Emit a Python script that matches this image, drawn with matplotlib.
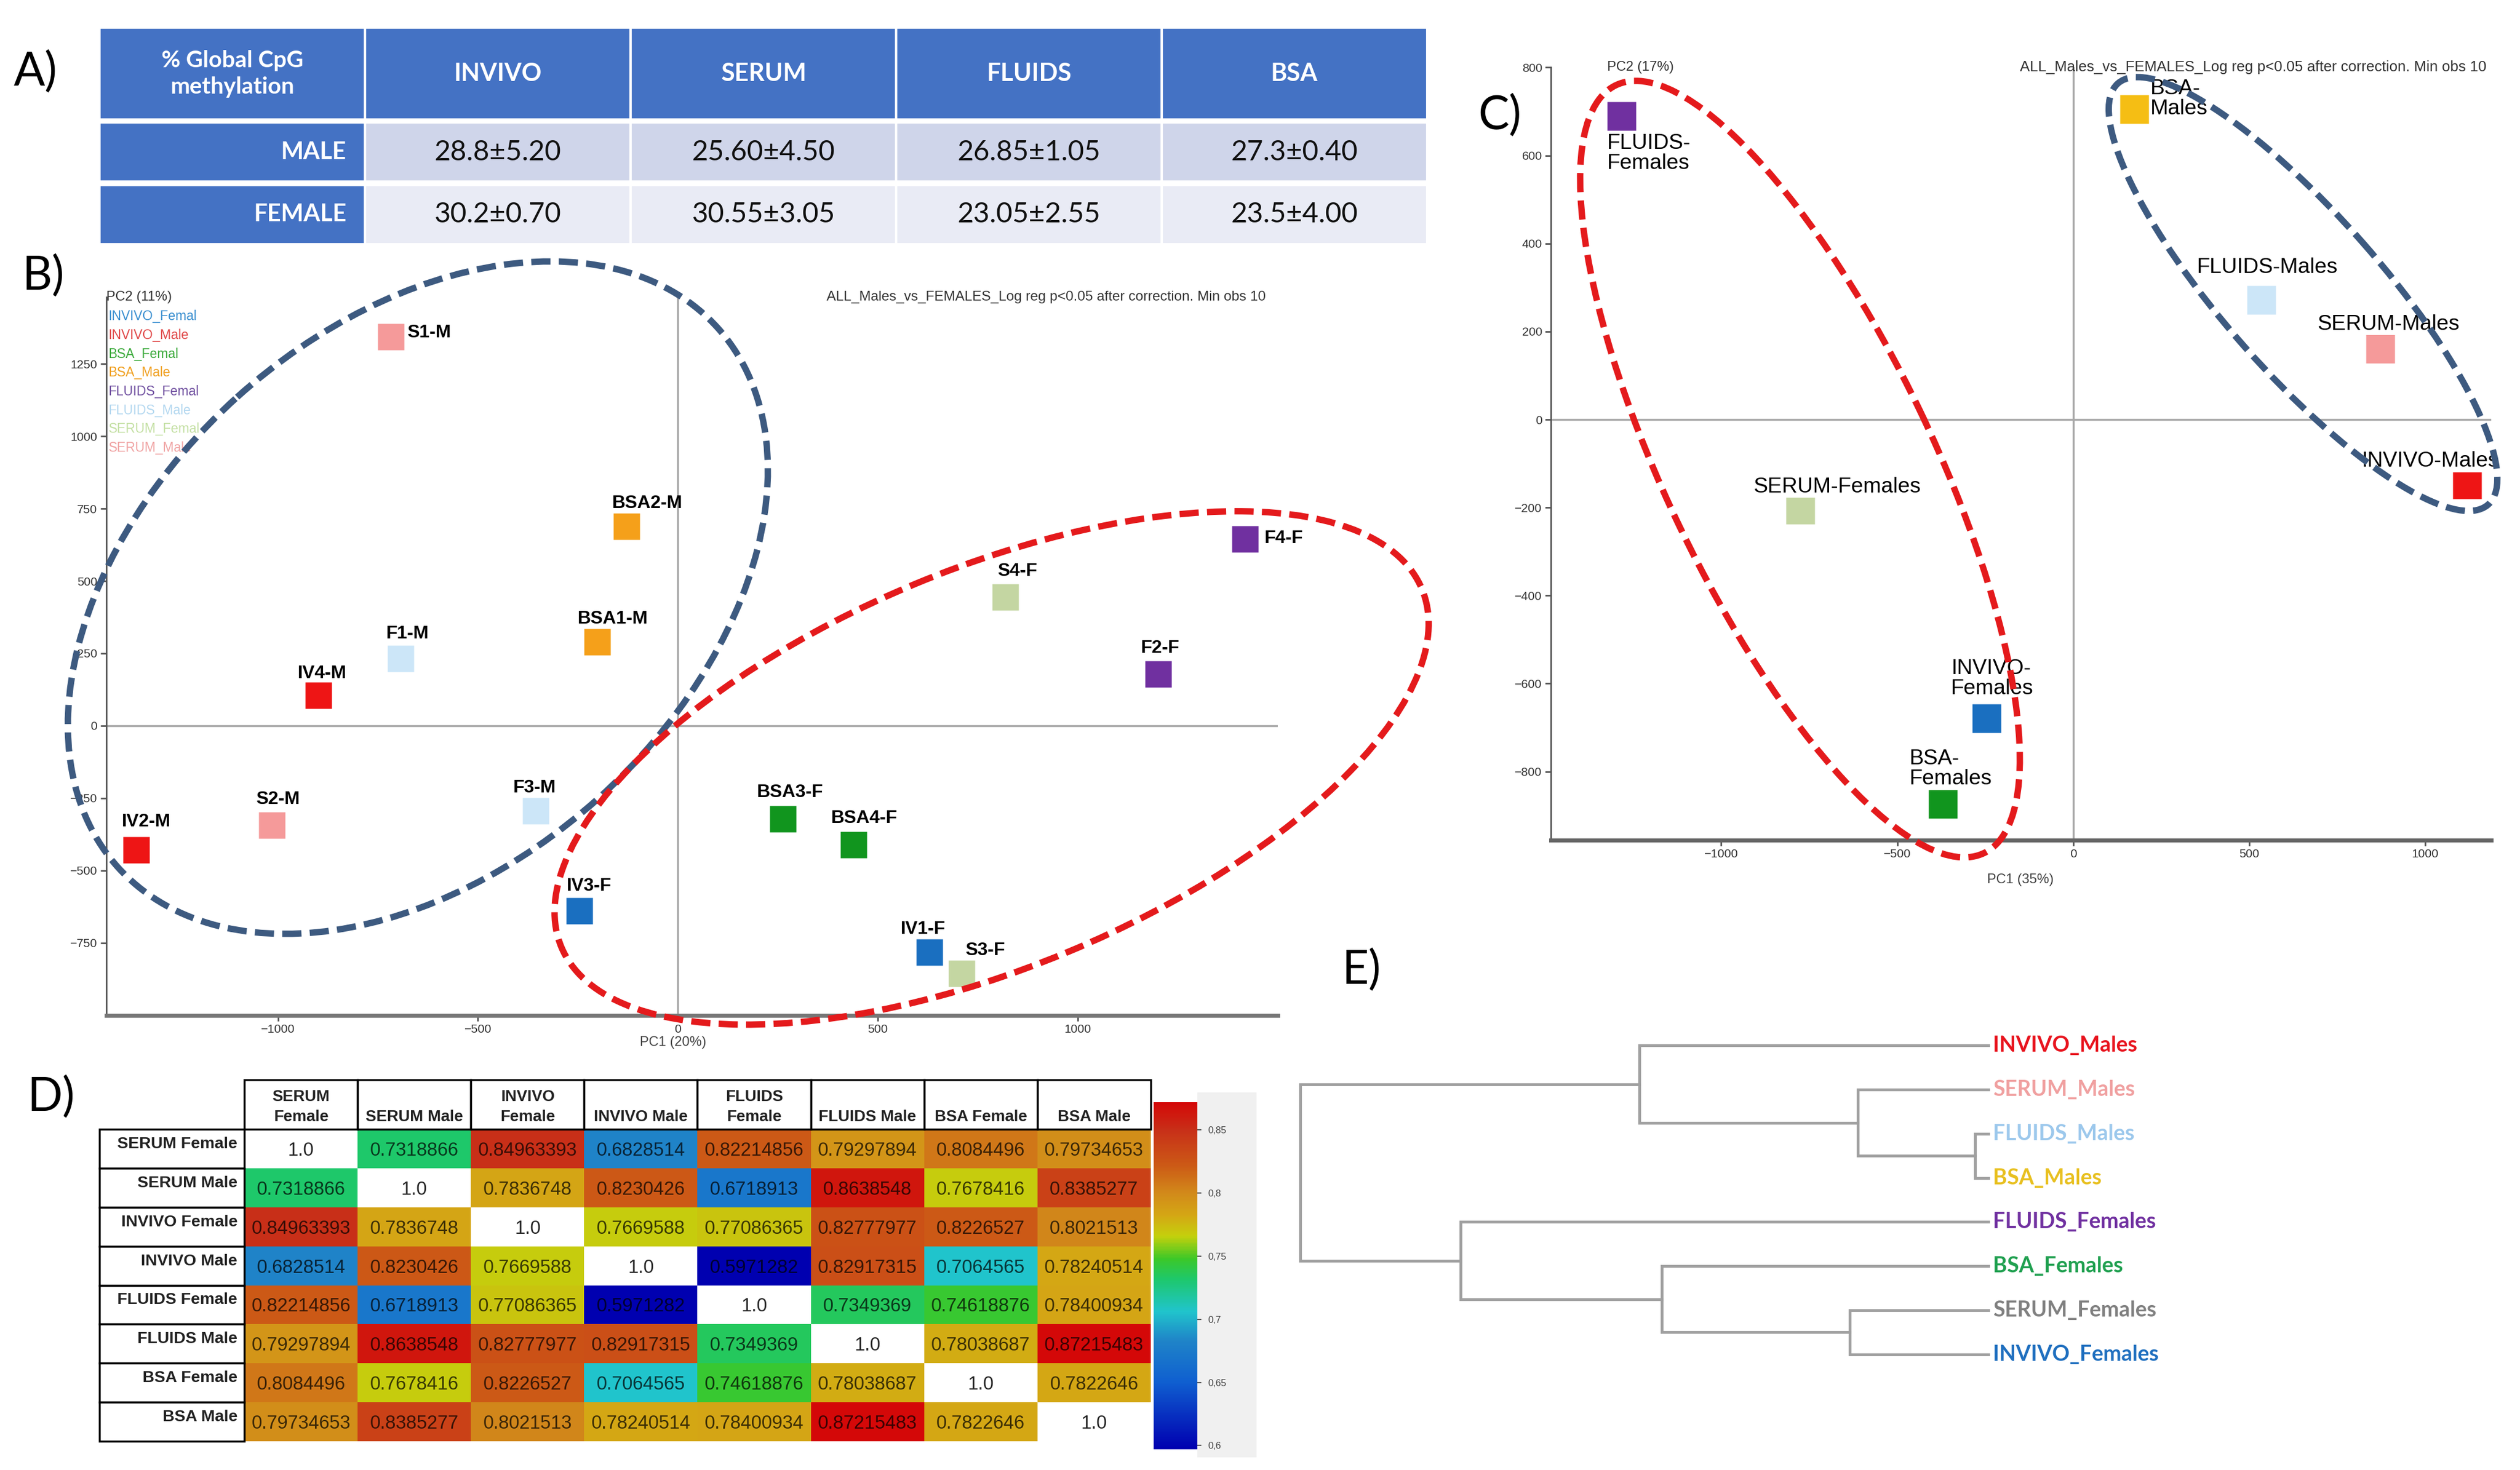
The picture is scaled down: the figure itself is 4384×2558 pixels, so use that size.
import matplotlib
matplotlib.use('Agg')
import matplotlib.pyplot as plt
import numpy as np
from matplotlib import font_manager
from matplotlib.patches import Ellipse, Rectangle
from matplotlib.colors import LinearSegmentedColormap, Normalize

# ---------------- data ----------------
# A) global CpG methylation table
groups = ['INVIVO', 'SERUM', 'FLUIDS', 'BSA']
male_meth = ['28.8±5.20', '25.60±4.50', '26.85±1.05', '27.3±0.40']
female_meth = ['30.2±0.70', '30.55±3.05', '23.05±2.55', '23.5±4.00']

# B) PCA of the individual samples
b_labels = ['S1-M', 'BSA2-M', 'BSA1-M', 'F1-M', 'IV4-M', 'F3-M', 'S2-M', 'IV2-M',
            'IV3-F', 'BSA3-F', 'BSA4-F', 'IV1-F', 'S3-F', 'S4-F', 'F2-F', 'F4-F']
b_pc1 = [-718, -129, -202, -694, -899, -355, -1016, -1355,
         -246, 262, 440, 629, 710, 819, 1202, 1419]
b_pc2 = [1344, 689, 289, 233, 106, -294, -344, -428,
         -639, -322, -411, -783, -856, 444, 178, 644]
b_group = ['SERUM_Male', 'BSA_Male', 'BSA_Male', 'FLUIDS_Male', 'INVIVO_Male', 'FLUIDS_Male',
           'SERUM_Male', 'INVIVO_Male', 'INVIVO_Femal', 'BSA_Femal', 'BSA_Femal', 'INVIVO_Femal',
           'SERUM_Femal', 'SERUM_Femal', 'FLUIDS_Femal', 'FLUIDS_Femal']
legend_groups = ['INVIVO_Femal', 'INVIVO_Male', 'BSA_Femal', 'BSA_Male',
                 'FLUIDS_Femal', 'FLUIDS_Male', 'SERUM_Femal', 'SERUM_Male']

# C) PCA of the pooled groups
c_labels = ['FLUIDS-\nFemales', 'BSA-\nMales', 'FLUIDS-Males', 'SERUM-Males', 'INVIVO-Males',
            'SERUM-Females', 'INVIVO-\nFemales', 'BSA-\nFemales']
c_pc1 = [-1283, 174, 534, 872, 1119, -776, -247, -370]
c_pc2 = [690, 705, 272, 161, -147, -205, -679, -873]
c_group = ['FLUIDS_Femal', 'BSA_Male', 'FLUIDS_Male', 'SERUM_Male', 'INVIVO_Male',
           'SERUM_Femal', 'INVIVO_Femal', 'BSA_Femal']

# D) correlation matrix
d_names = ['SERUM Female', 'SERUM Male', 'INVIVO Female', 'INVIVO Male',
           'FLUIDS Female', 'FLUIDS Male', 'BSA Female', 'BSA Male']
d_cols = ['SERUM\nFemale', 'SERUM Male', 'INVIVO\nFemale', 'INVIVO Male',
          'FLUIDS\nFemale', 'FLUIDS Male', 'BSA Female', 'BSA Male']
d_vals = [
    [1.0, 0.7318866, 0.84963393, 0.6828514, 0.82214856, 0.79297894, 0.8084496, 0.79734653],
    [0.7318866, 1.0, 0.7836748, 0.8230426, 0.6718913, 0.8638548, 0.7678416, 0.8385277],
    [0.84963393, 0.7836748, 1.0, 0.7669588, 0.77086365, 0.82777977, 0.8226527, 0.8021513],
    [0.6828514, 0.8230426, 0.7669588, 1.0, 0.5971282, 0.82917315, 0.7064565, 0.78240514],
    [0.82214856, 0.6718913, 0.77086365, 0.5971282, 1.0, 0.7349369, 0.74618876, 0.78400934],
    [0.79297894, 0.8638548, 0.82777977, 0.82917315, 0.7349369, 1.0, 0.78038687, 0.87215483],
    [0.8084496, 0.7678416, 0.8226527, 0.7064565, 0.74618876, 0.78038687, 1.0, 0.7822646],
    [0.79734653, 0.8385277, 0.8021513, 0.78240514, 0.78400934, 0.87215483, 0.7822646, 1.0],
]
cbar_ticks = [0.6, 0.65, 0.7, 0.75, 0.8, 0.85]

# E) dendrogram (leaves top to bottom, merges as (child, child, height), new nodes numbered from 8)
e_leaves = ['INVIVO_Males', 'SERUM_Males', 'FLUIDS_Males', 'BSA_Males',
            'FLUIDS_Females', 'BSA_Females', 'SERUM_Females', 'INVIVO_Females']
e_merges = [(2, 3, 8), (1, 8, 81), (0, 9, 217), (6, 7, 86), (5, 11, 203), (4, 12, 328), (10, 13, 428)]

# ---------------- styles ----------------
marker_col = {'INVIVO_Male': '#ee1515', 'SERUM_Male': '#f59a9a', 'FLUIDS_Male': '#cce6f8',
              'BSA_Male': '#f5a01a', 'INVIVO_Femal': '#1a6fc0', 'SERUM_Femal': '#c4d6a2',
              'FLUIDS_Femal': '#7030a0', 'BSA_Femal': '#11951e'}
legend_col = {'INVIVO_Femal': '#3a8fd0', 'INVIVO_Male': '#e04848', 'BSA_Femal': '#3caa3c',
              'BSA_Male': '#f0a020', 'FLUIDS_Femal': '#7050a0', 'FLUIDS_Male': '#b4d8f0',
              'SERUM_Femal': '#c4e0a4', 'SERUM_Male': '#f0a4a4'}
leaf_col = ['#e8141e', '#f0a0a0', '#9cc8ec', '#e8c020', '#7030a0', '#20a050', '#808080', '#1f6fbf']

names = {f.name for f in font_manager.fontManager.ttflist}
NARROW = 'Liberation Sans Narrow' if 'Liberation Sans Narrow' in names else 'Liberation Sans'
NS = 1.0 if NARROW == 'Liberation Sans Narrow' else 0.84
plt.rcParams['font.family'] = 'Liberation Sans'

W, H = 1568.0, 915.0   # layout grid


def box(x0, y0, x1, y1):
    return [x0 / W, 1 - y1 / H, (x1 - x0) / W, (y1 - y0) / H]


fig = plt.figure(figsize=(43.84, 25.58), dpi=100)
fig.patch.set_facecolor('white')

# ---------------- A) table ----------------
axA = fig.add_axes(box(62, 17, 888, 152))
axA.set_xlim(0, 5)
axA.set_ylim(3.65, 0)
axA.axis('off')
blue = '#4472c4'
rows_y = [(0, 1.55), (1.6, 2.6), (2.65, 3.65)]
for i in range(5):
    axA.add_patch(Rectangle((i, 0), 1, 1.55, fc=blue, ec='white', lw=3))
axA.text(0.5, 0.78, '% Global CpG\nmethylation', color='white', fontsize=29, fontweight='bold',
         ha='center', va='center', family='Lato', linespacing=1.3)
for i, g in enumerate(groups):
    axA.text(i + 1.5, 0.78, g, color='white', fontsize=31, fontweight='bold',
             ha='center', va='center', family='Lato')
for (y0, y1), lab, vals, bg in zip(rows_y[1:], ['MALE', 'FEMALE'], [male_meth, female_meth],
                                   ['#cfd5ea', '#e9ebf5']):
    axA.add_patch(Rectangle((0, y0), 1, y1 - y0, fc=blue, ec='white', lw=3))
    axA.text(0.93, (y0 + y1) / 2, lab, color='white', fontsize=30, fontweight='bold',
             ha='right', va='center', family='Lato')
    for i, v in enumerate(vals):
        axA.add_patch(Rectangle((i + 1, y0), 1, y1 - y0, fc=bg, ec='white', lw=3))
        axA.text(i + 1.5, (y0 + y1) / 2, v, color='#111111', fontsize=35,
                 ha='center', va='center', family='Lato')

# ---------------- B) PCA samples ----------------
axB = fig.add_axes(box(66, 185, 795, 632))
axB.set_xlim(-1430, 1500)
axB.set_ylim(-1000, 1480)
for s in ['top', 'right']:
    axB.spines[s].set_visible(False)
axB.spines['left'].set_color('#555555')
axB.spines['left'].set_linewidth(2)
axB.spines['bottom'].set_color('#777777')
axB.spines['bottom'].set_linewidth(5)
axB.axhline(0, color='#a8a8a8', lw=2.5, zorder=1)
axB.axvline(0, color='#a8a8a8', lw=2.5, zorder=1)
axB.set_xticks([-1000, -500, 0, 500, 1000])
axB.set_yticks([-750, -500, -250, 0, 250, 500, 750, 1000, 1250])
axB.tick_params(length=7, width=2, color='#555555', labelsize=18 * NS, labelcolor='#333333', pad=4)
for t in axB.get_xticklabels() + axB.get_yticklabels():
    t.set_family(NARROW)
for x, y, g in zip(b_pc1, b_pc2, b_group):
    axB.plot(x, y, 's', ms=33, color=marker_col[g], mec='none', zorder=4)
b_offsets = [(10, -3), (-9, 9), (-12, 9), (-9, 10), (-13, 8), (-14, 9), (-10, 11), (-9, 12),
             (-8, 10), (-16, 11), (-14, 11), (-18, 9), (2, 9), (-5, 11), (-11, 11), (12, -5)]
for x, y, lab, (dx, dy) in zip(b_pc1, b_pc2, b_labels, b_offsets):
    axB.annotate(lab, (x, y), xytext=(dx * 2.01, dy * 2.01), textcoords='offset points',
                 fontsize=23, fontweight='bold', ha='left', va='bottom', zorder=5)
axB.text(0.0, 1.0, 'PC2 (11%)', transform=axB.transAxes, fontsize=17, color='#333333',
         ha='left', va='center')
for k, g in enumerate(legend_groups):
    axB.text(0.002, 1.0 - (12 + 11.7 * k) / 447, g, transform=axB.transAxes, fontsize=16.5,
             color=legend_col[g], ha='left', va='center')
axB.text(0.99, 1.0, 'ALL_Males_vs_FEMALES_Log reg p<0.05 after correction. Min obs 10',
         transform=axB.transAxes, fontsize=17.5, color='#333333', ha='right', va='center')
axB.annotate('PC1 (20%)', (0, -1000), xytext=(-6, -26), textcoords='offset points',
             fontsize=17, color='#444444', ha='center', va='top')

# ---------------- C) PCA groups ----------------
axC = fig.add_axes(box(965, 42, 1550, 523))
axC.set_xlim(-1484, 1187)
axC.set_ylim(-956, 800)
for s in ['top', 'right']:
    axC.spines[s].set_visible(False)
axC.spines['left'].set_color('#555555')
axC.spines['left'].set_linewidth(2)
axC.spines['bottom'].set_color('#666666')
axC.spines['bottom'].set_linewidth(5)
axC.axhline(0, color='#a8a8a8', lw=2.5, zorder=1)
axC.axvline(0, color='#a8a8a8', lw=2.5, zorder=1)
axC.set_xticks([-1000, -500, 0, 500, 1000])
axC.set_yticks(np.arange(-800, 801, 200))
axC.tick_params(length=7, width=2, color='#555555', labelsize=18 * NS, labelcolor='#333333', pad=4)
for t in axC.get_xticklabels() + axC.get_yticklabels():
    t.set_family(NARROW)
for x, y, g in zip(c_pc1, c_pc2, c_group):
    c = '#f5be14' if g == 'BSA_Male' else marker_col[g]
    axC.plot(x, y, 's', ms=36, color=c, mec='none', zorder=4)
c_place = [(-9, -11, 'left', 'top'), (10, 19, 'left', 'top'), (4, 14, 'center', 'bottom'),
           (5, 9, 'center', 'bottom'), (-23, 8, 'center', 'bottom'), (23, 8, 'center', 'bottom'),
           (-22, 12, 'left', 'bottom'), (-21, 9, 'left', 'bottom')]
for x, y, lab, (dx, dy, ha, va) in zip(c_pc1, c_pc2, c_labels, c_place):
    axC.annotate(lab, (x, y), xytext=(dx * 2.01, dy * 2.01), textcoords='offset points',
                 fontsize=32 * NS, family=NARROW, ha=ha, va=va, zorder=5, linespacing=1.0,
                 bbox=dict(fc='white', ec='none', pad=1))
axC.text(0.06, 1.0, 'PC2 (17%)', transform=axC.transAxes, fontsize=17, color='#333333',
         ha='left', va='center')
axC.text(0.995, 1.0, 'ALL_Males_vs_FEMALES_Log reg p<0.05 after correction. Min obs 10',
         transform=axC.transAxes, fontsize=18.5, color='#333333', ha='right', va='center')
axC.annotate('PC1 (35%)', (-150, -956), xytext=(0, -42), textcoords='offset points',
             fontsize=17, color='#444444', ha='center', va='top')

# ---------------- D) correlation heatmap ----------------
M = np.array(d_vals)
n = len(d_names)
masked = np.ma.masked_where(np.eye(n, dtype=bool), M)
vmin, vmax = masked.min(), masked.max()
stops = [(0.597, '#0000b0'), (0.65, '#0f5fd0'), (0.683, '#1f84c8'), (0.706, '#20c4cc'),
         (0.732, '#1ec86a'), (0.748, '#3cc828'), (0.766, '#c4d00c'), (0.782, '#d4a814'),
         (0.800, '#d28a1a'), (0.822, '#cc5a16'), (0.850, '#c83018'), (0.8722, '#d40808')]
cmap = LinearSegmentedColormap.from_list(
    'corr', [((v - stops[0][0]) / (stops[-1][0] - stops[0][0]), c) for v, c in stops])
cmap.set_bad('white')
norm = Normalize(vmin=vmin, vmax=vmax)

axD = fig.add_axes(box(62, 672, 716, 897))
mesh = axD.pcolormesh(np.arange(n + 1), np.arange(n + 1), masked, cmap=cmap, norm=norm)
axD.set_xlim(-1.277, n)
axD.set_ylim(n, -1.28)
axD.axis('off')
for i in range(n):
    for j in range(n):
        txt = '1.0' if i == j else f'{M[i, j]:.8f}'.rstrip('0')
        axD.text(j + 0.5, i + 0.55, txt, ha='center', va='center', fontsize=28 * NS,
                 family=NARROW, color='black', alpha=0.72 if i != j else 0.85)
for j, lab in enumerate(d_cols):
    axD.add_patch(Rectangle((j, -1.28), 1, 1.28, fc='white', ec='black', lw=2.5, clip_on=False))
    axD.text(j + 0.5, -0.12, lab, ha='center', va='bottom', fontsize=20, family=NARROW,
             fontweight='bold', color='#222222', linespacing=1.45)
for i, lab in enumerate(d_names):
    axD.add_patch(Rectangle((-1.277, i), 1.277, 1, fc='white', ec='black', lw=2.5, clip_on=False))
    axD.text(-0.06, i + 0.38, lab, ha='right', va='center', fontsize=20.5, family=NARROW,
             fontweight='bold', color='#222222')

fig.add_artist(Rectangle((745 / W, 1 - 907 / H), 37 / W, 227 / H, transform=fig.transFigure,
                         fc='#f0f0f0', ec='none', zorder=0))
cax = fig.add_axes(box(718, 686, 745, 902))
cb = fig.colorbar(mesh, cax=cax)
cb.outline.set_visible(False)
cb.set_ticks(cbar_ticks)
cb.set_ticklabels([f'{t:g}'.replace('.', ',') for t in cbar_ticks])
cax.tick_params(length=5, width=1.5, color='#555555', labelsize=12, labelcolor='#444444', pad=8)

# ---------------- E) dendrogram ----------------
axE = fig.add_axes(box(809, 650.8, 1237, 843))
axE.set_xlim(max(m[2] for m in e_merges), 0)
axE.set_ylim(len(e_leaves) - 1, 0)
axE.axis('off')
pos = {i: (float(i), 0.0) for i in range(len(e_leaves))}
for k, (a, b, h) in enumerate(e_merges):
    (ya, ha_), (yb, hb) = pos[a], pos[b]
    axE.plot([ha_, h, h, hb], [ya, ya, yb, yb], color='#a0a0a0', lw=3.5, clip_on=False,
             solid_joinstyle='miter')
    pos[len(e_leaves) + k] = ((ya + yb) / 2, h)
for i, (lab, c) in enumerate(zip(e_leaves, leaf_col)):
    axE.annotate(lab, (0, i), xytext=(6, 0), textcoords='offset points', color=c,
                 fontsize=27, fontweight='bold', family='Lato', ha='left', va='center')

# ---------------- ellipses and panel letters ----------------
ov = fig.add_axes([0, 0, 1, 1], zorder=10)
ov.set_xlim(0, W)
ov.set_ylim(H, 0)
ov.axis('off')
ov.patch.set_alpha(0)
ell = [((260, 372), 502, 336, -42, '#3d5a80'), ((617, 478), 580, 248, -22.6, '#e41a1c'),
       ((1120, 292), 530, 166, 64.4, '#e41a1c'), ((1433, 183), 349, 98, 48.7, '#3d5a80')]
for c, w, h, ang, col in ell:
    ov.add_patch(Ellipse(c, w, h, angle=ang, fill=False, ec=col, lw=8,
                         linestyle=(0, (3, 1.3))))
for lab, x, y in [('A)', 22, 45), ('B)', 27, 172), ('C)', 933, 72), ('D)', 32, 683), ('E)', 847, 604)]:
    ov.text(x, y, lab, fontsize=58, family='Lato', ha='center', va='center')

fig.savefig('out.png', dpi=100, facecolor='white')
